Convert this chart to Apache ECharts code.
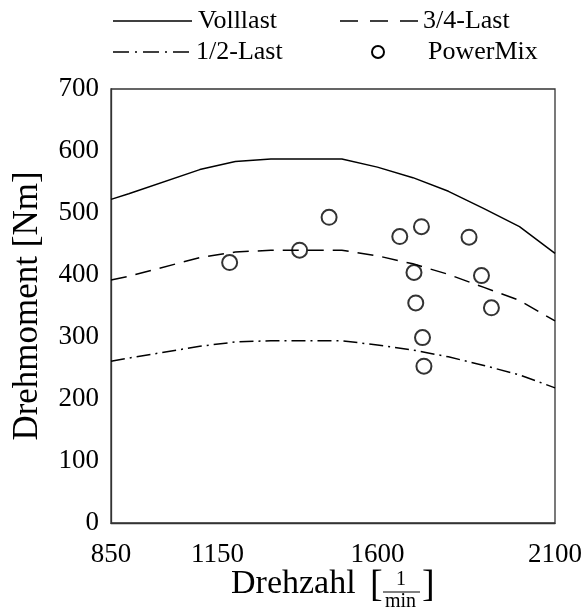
<!DOCTYPE html>
<html>
<head>
<meta charset="utf-8">
<script src="https://cdn.jsdelivr.net/npm/echarts@6/dist/echarts.min.js"></script>
<style>html,body{margin:0;padding:0;background:#fff;}#c{width:586px;height:613px;}</style>
</head>
<body>
<div id="c"></div>
<script>
const rpm = [850, 900, 1100, 1200, 1300, 1500, 1600, 1700, 1800, 1900, 2000, 2100];
const volllast = [522, 531, 570, 583, 587, 587, 574, 557, 535, 507, 478, 435];
const last34 = [392, 398, 428, 437, 440, 440, 431, 418, 401, 380, 359, 326];
const last12 = [261, 266, 285, 292, 294, 294, 287, 279, 268, 254, 239, 218];
const powerMixRpm = [1184, 1381, 1464, 1663, 1724, 1858, 1703, 1893, 1708, 1921, 1727, 1731];
const powerMixNm = [420, 440, 493, 462, 478, 461, 404, 399, 355, 347, 299, 253];
const xTicks = [850, 1150, 1600, 2100];
const legendNames = ['Volllast', '3/4-Last', '1/2-Last', 'PowerMix'];

const FONT = "'Liberation Serif', 'DejaVu Serif', serif";
const pair = (xs, ys) => xs.map((x, i) => [x, ys[i]]);
const DASH34 = [16, 9];
const DASH12 = [14, 5, 2, 5];

function legendText(x, y, t) {
  return {type: 'text', silent: true, style: {x: x, y: y, text: t, font: "26px 'Liberation Serif'", fill: '#000', verticalAlign: 'middle', align: 'left'}};
}
function legendLine(x1, x2, y, dash) {
  return {type: 'line', silent: true, shape: {x1: x1, y1: y, x2: x2, y2: y}, style: {stroke: '#000', lineWidth: 1.5, lineDash: dash || null}};
}

const chart = echarts.init(document.getElementById('c'), null, {renderer: 'canvas'});
chart.setOption({
  animation: false,
  backgroundColor: '#fff',
  grid: {left: 111, right: 31, top: 89, bottom: 90, show: true, borderColor: '#333', borderWidth: 1.3, containLabel: false},
  xAxis: {
    type: 'value', min: 850, max: 2100,
    axisLine: {show: true, lineStyle: {color: '#333', width: 1.3}},
    axisTick: {show: false},
    splitLine: {show: false},
    axisLabel: {customValues: xTicks, showMinLabel: true, showMaxLabel: true, margin: 18,
      formatter: v => String(v),
      fontFamily: FONT, fontSize: 27, color: '#000'}
  },
  yAxis: {
    type: 'value', min: 0, max: 700, interval: 100,
    name: 'Drehmoment [Nm]', nameLocation: 'middle', nameGap: 66,
    nameTextStyle: {fontFamily: FONT, fontSize: 35, color: '#000'},
    axisLine: {show: true, lineStyle: {color: '#333', width: 1.3}},
    axisTick: {show: false},
    splitLine: {show: false},
    axisLabel: {margin: 12, fontFamily: FONT, fontSize: 27, color: '#000'}
  },
  graphic: [
    legendLine(113, 192, 21), legendText(198, 21, legendNames[0]),
    legendLine(340, 418, 21, [18, 12]), legendText(423, 21, legendNames[1]),
    legendLine(113, 192, 52, [16, 6, 2, 6]), legendText(196, 52, legendNames[2]),
    {type: 'circle', silent: true, shape: {cx: 378, cy: 52, r: 6}, style: {fill: 'none', stroke: '#000', lineWidth: 2}},
    legendText(428, 52, legendNames[3]),
    {type: 'text', left: 231, top: 567, style: {text: 'Drehzahl', font: "34px 'Liberation Serif'", fill: '#000'}},
    {type: 'text', left: 370, top: 567, style: {text: '[', font: "38px 'Liberation Serif'", fill: '#000'}},
    {type: 'text', left: 396, top: 570, style: {text: '1', font: "20px 'Liberation Serif'", fill: '#000'}},
    {type: 'line', shape: {x1: 383, y1: 592, x2: 420, y2: 592}, style: {stroke: '#000', lineWidth: 1.2}},
    {type: 'text', left: 385, top: 592, style: {text: 'min', font: "20px 'Liberation Serif'", fill: '#000'}},
    {type: 'text', left: 422, top: 567, style: {text: ']', font: "38px 'Liberation Serif'", fill: '#000'}}
  ],
  series: [
    {name: legendNames[0], type: 'line', data: pair(rpm, volllast), symbol: 'none',
      lineStyle: {color: '#000', width: 1.5, type: 'solid'}},
    {name: legendNames[1], type: 'line', data: pair(rpm, last34), symbol: 'none',
      lineStyle: {color: '#000', width: 1.5, type: DASH34}},
    {name: legendNames[2], type: 'line', data: pair(rpm, last12), symbol: 'none',
      lineStyle: {color: '#000', width: 1.5, type: DASH12}},
    {name: legendNames[3], type: 'scatter', data: pair(powerMixRpm, powerMixNm), symbol: 'circle', symbolSize: 15,
      itemStyle: {color: 'rgba(0,0,0,0)', borderColor: '#000', borderWidth: 2}}
  ]
});
</script>
</body>
</html>
